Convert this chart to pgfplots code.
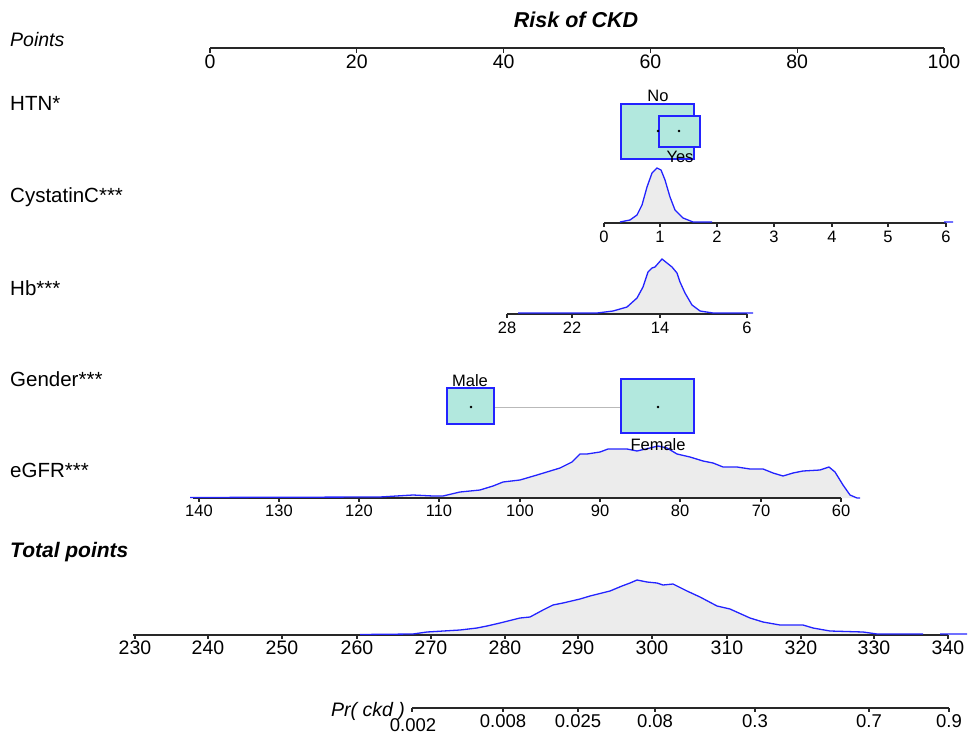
\documentclass[border=0pt]{standalone}
\usepackage{fontspec}
\setmainfont{Liberation Sans}
\usepackage{pgfplots}
\pgfplotsset{compat=1.18}
\definecolor{boxfill}{RGB}{178,232,222}
\definecolor{dblue}{RGB}{35,35,255}
\definecolor{dfill}{RGB}{236,236,236}
\definecolor{axc}{RGB}{40,40,40}
\begin{document}
\begin{tikzpicture}
\tikzset{tl/.style={font=\fontsize{16.5}{18}\selectfont, inner sep=0pt, anchor=center},
         tb/.style={font=\fontsize{19.5}{21}\selectfont, inner sep=0pt, anchor=center},
         tp/.style={font=\fontsize{18.5}{20}\selectfont, inner sep=0pt, anchor=center},
         nm/.style={font=\fontsize{20.5}{22}\selectfont, inner sep=0pt, anchor=west}}
\begin{axis}[width=968pt,height=735pt,scale only axis,
  xmin=0,xmax=968,ymin=0,ymax=735,y dir=reverse,
  axis line style={draw=none},ticks=none,clip=false,unbounded coords=jump]
\addplot[draw=none] coordinates {(0,0) (968,0) (968,735) (0,735)};
% ---------- Title and row names
\node[font=\bfseries\itshape\fontsize{21.5}{23}\selectfont,inner sep=0pt] at (axis cs:576,20) {Risk of CKD};
\node[nm,font=\itshape\fontsize{19.5}{21}\selectfont] at (axis cs:10,40) {Points};
\node[nm] at (axis cs:10,103) {HTN*};
\node[nm] at (axis cs:10,197) {CystatinC***};
\node[nm] at (axis cs:10,288) {Hb***};
\node[nm] at (axis cs:10,379) {Gender***};
\node[nm] at (axis cs:10,470) {eGFR***};
\node[nm,font=\bfseries\itshape\fontsize{21}{23}\selectfont] at (axis cs:10,552) {Total points};
% ---------- Points axis
\addplot[axc,line width=1.1pt] coordinates {(210,48) (944,48) (nan,nan)
 (210,48) (210,53) (nan,nan) (356.8,48) (356.8,53) (nan,nan) (503.6,48) (503.6,53) (nan,nan)
 (650.4,48) (650.4,53) (nan,nan) (797.2,48) (797.2,53) (nan,nan) (944,48) (944,53)};
\foreach \xx/\lab in {210/0,356.8/20,503.6/40,650.4/60,797.2/80,944/100}
  {\edef\tmp{\noexpand\node[tb] at (axis cs:\xx,62) {\lab};}\tmp}
% ---------- HTN
\addplot[draw=dblue,fill=boxfill,line width=1.1pt] coordinates {(621,104) (694,104) (694,159) (621,159)} -- cycle;
\addplot[only marks,mark=*,mark size=1pt,black] coordinates {(658,131)};
\addplot[draw=dblue,fill=boxfill,line width=1.1pt] coordinates {(659,116) (700,116) (700,147) (659,147)} -- cycle;
\addplot[only marks,mark=*,mark size=1pt,black] coordinates {(679,131)};
\node[tl] at (axis cs:658,96) {No};
\node[tl] at (axis cs:680,157) {Yes};
% ---------- CystatinC
\addplot[fill=dfill,draw=none] coordinates {(620,223) (630,220) (637,215) (642,205) (647,187) (652,173) (657,168) (661,170) (665,180) (670,197) (675,210) (683,218) (693,222) (712,223)} -- cycle;
\addplot[axc,line width=1.1pt] coordinates {(604,223) (946,223) (nan,nan)
 (604,223) (604,227) (nan,nan) (660,223) (660,227) (nan,nan) (717,223) (717,227) (nan,nan)
 (774,223) (774,227) (nan,nan) (832,223) (832,227) (nan,nan) (888,223) (888,227) (nan,nan) (946,223) (946,227)};
\addplot[dblue,line width=1.3pt] coordinates {(620,222) (630,220) (637,215) (642,205) (647,187) (652,173) (657,168) (661,170) (665,180) (670,197) (675,210) (683,218) (693,222) (712,222) (nan,nan) (944,222) (953,222)};
\foreach \xx/\lab in {604/0,660/1,717/2,774/3,832/4,888/5,946/6}
  {\edef\tmp{\noexpand\node[tl] at (axis cs:\xx,237) {\lab};}\tmp}
% ---------- Hb
\addplot[fill=dfill,draw=none] coordinates {(518,314) (597,313) (613,311) (627,307) (637,298) (643,287) (648,272) (652,268) (655,267) (662,259) (667,263) (672,267) (677,273) (680,282) (685,293) (692,305) (700,311) (713,313) (753,314)} -- cycle;
\addplot[axc,line width=1.1pt] coordinates {(507,314) (747,314) (nan,nan)
 (507,314) (507,318) (nan,nan) (572,314) (572,318) (nan,nan) (660,314) (660,318) (nan,nan) (747,314) (747,318)};
\addplot[dblue,line width=1.3pt] coordinates {(518,313) (597,313) (613,311) (627,307) (637,298) (643,287) (648,272) (652,268) (655,267) (662,259) (667,263) (672,267) (677,273) (680,282) (685,293) (692,305) (700,311) (713,313) (733,313) (753,313)};
\foreach \xx/\lab in {507/28,572/22,660/14,747/6}
  {\edef\tmp{\noexpand\node[tl] at (axis cs:\xx,328) {\lab};}\tmp}
% ---------- Gender
\addplot[gray!55,line width=1pt] coordinates {(471,407) (658,407)};
\addplot[draw=dblue,fill=boxfill,line width=1.1pt] coordinates {(447,388) (494,388) (494,424) (447,424)} -- cycle;
\addplot[draw=dblue,fill=boxfill,line width=1.1pt] coordinates {(621,379) (694,379) (694,433) (621,433)} -- cycle;
\addplot[only marks,mark=*,mark size=1pt,black] coordinates {(471,407) (658,407)};
\node[tl] at (axis cs:470,381) {Male};
% ---------- eGFR
\addplot[fill=dfill,draw=none] coordinates {(190,498) (380,497) (413,495) (433,496) (443,496) (460,492) (480,490) (493,486) (503,482) (520,480) (537,475) (560,468) (572,462) (580,454) (587,454) (600,452) (608,449) (627,449) (637,451) (650,448) (658,446) (667,448) (677,454) (690,457) (703,461) (713,463) (723,467) (737,467) (750,469) (763,469) (773,473) (783,476) (793,473) (803,471) (820,470) (829,467) (835,472) (843,485) (850,495) (857,498)} -- cycle;
\addplot[axc,line width=1.1pt] coordinates {(193,498) (841,498) (nan,nan)
 (199,498) (199,502) (nan,nan) (279,498) (279,502) (nan,nan) (359,498) (359,502) (nan,nan)
 (439,498) (439,502) (nan,nan) (520,498) (520,502) (nan,nan) (600,498) (600,502) (nan,nan)
 (680,498) (680,502) (nan,nan) (761,498) (761,502) (nan,nan) (841,498) (841,502)};
\addplot[dblue,line width=1.3pt] coordinates {(190,497.5) (380,497) (413,495) (433,496) (443,496) (460,492) (480,490) (493,486) (503,482) (520,480) (537,475) (560,468) (572,462) (580,454) (587,454) (600,452) (608,449) (627,449) (637,451) (650,448) (658,446) (667,448) (677,454) (690,457) (703,461) (713,463) (723,467) (737,467) (750,469) (763,469) (773,473) (783,476) (793,473) (803,471) (820,470) (829,467) (835,472) (843,485) (850,495) (857,498) (860,498)};
\node[tl] at (axis cs:658,445) {Female};
\foreach \xx/\lab in {199/140,279/130,359/120,439/110,520/100,600/90,680/80,761/70,841/60}
  {\edef\tmp{\noexpand\node[tl] at (axis cs:\xx,511) {\lab};}\tmp}
% ---------- Total points
\addplot[fill=dfill,draw=none] coordinates {(360,635) (413,634) (427,632) (460,630) (477,628) (487,626) (500,623) (520,618) (530,617) (543,610) (553,605) (563,603) (580,599) (590,596) (610,591) (622,586) (630,583) (637,580) (647,582) (657,583) (663,585) (673,584) (687,591) (700,597) (717,606) (730,609) (750,618) (763,622) (780,625) (803,625) (813,628) (830,631) (863,632) (877,634) (923,635)} -- cycle;
\addplot[axc,line width=1.1pt] coordinates {(133,635) (948,635) (nan,nan)
 (135,635) (135,639) (nan,nan) (208,635) (208,639) (nan,nan) (282,635) (282,639) (nan,nan)
 (357,635) (357,639) (nan,nan) (431,635) (431,639) (nan,nan) (505,635) (505,639) (nan,nan)
 (578,635) (578,639) (nan,nan) (652,635) (652,639) (nan,nan) (727,635) (727,639) (nan,nan)
 (801,635) (801,639) (nan,nan) (874,635) (874,639) (nan,nan) (948,635) (948,639)};
\addplot[dblue,line width=1.3pt] coordinates {(360,634.5) (413,634) (427,632) (460,630) (477,628) (487,626) (500,623) (520,618) (530,617) (543,610) (553,605) (563,603) (580,599) (590,596) (610,591) (622,586) (630,583) (637,580) (647,582) (657,583) (663,585) (673,584) (687,591) (700,597) (717,606) (730,609) (750,618) (763,622) (780,625) (803,625) (813,628) (830,631) (863,632) (877,634) (923,634) (nan,nan) (940,634) (967,634)};
\foreach \xx/\lab in {135/230,208/240,282/250,357/260,431/270,505/280,578/290,652/300,727/310,801/320,874/330,948/340}
  {\edef\tmp{\noexpand\node[tb] at (axis cs:\xx,648) {\lab};}\tmp}
% ---------- Pr(ckd)
\addplot[axc,line width=1.1pt] coordinates {(412,708) (949,708) (nan,nan)
 (412,708) (412,712) (nan,nan) (503,708) (503,712) (nan,nan) (578,708) (578,712) (nan,nan)
 (655,708) (655,712) (nan,nan) (755,708) (755,712) (nan,nan) (869,708) (869,712) (nan,nan) (949,708) (949,712)};
\node[nm,font=\itshape\fontsize{19.5}{21}\selectfont] at (axis cs:331,711) {Pr( ckd )};
\node[tp] at (axis cs:413,725) {0.002};
\foreach \xx/\lab in {503/0.008,578/0.025,655/0.08,755/0.3,869/0.7,949/0.9}
  {\edef\tmp{\noexpand\node[tp] at (axis cs:\xx,721) {\lab};}\tmp}
\end{axis}
\end{tikzpicture}
\end{document}
